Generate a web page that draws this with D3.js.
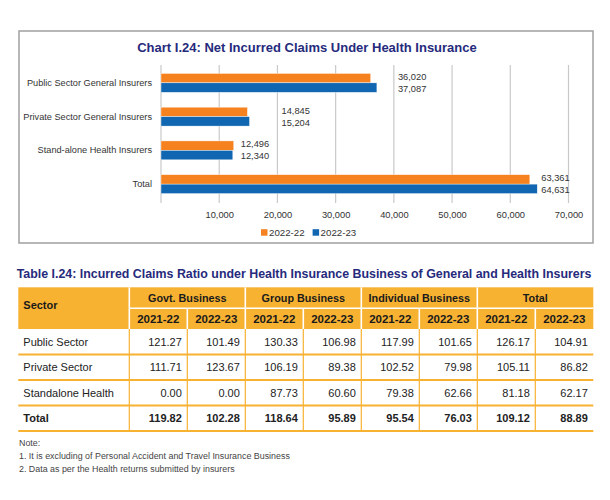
<!DOCTYPE html>
<html>
<head>
<meta charset="utf-8">
<script src="https://cdn.jsdelivr.net/npm/d3@7"></script>
<style>
  body { margin: 0; background: #fff; }
  text { font-family: "Liberation Sans", Arial, sans-serif; }
</style>
</head>
<body>
<div id="chart"></div>
<script>
// chart data
const categories = ['Public Sector General Insurers', 'Private Sector General Insurers', 'Stand-alone Health Insurers', 'Total'];
const seriesNames = ['2022-22', '2022-23'];
const claims2122 = [36020, 14845, 12496, 63361];
const claims2223 = [37087, 15204, 12340, 64631];
const xTicks = [10000, 20000, 30000, 40000, 50000, 60000, 70000];

// table data
const sectors = ['Public Sector', 'Private Sector', 'Standalone Health', 'Total'];
const businessGroups = ['Govt. Business', 'Group Business', 'Individual Business', 'Total'];
const years = ['2021-22', '2022-23'];
const publicRatios = [121.27, 101.49, 130.33, 106.98, 117.99, 101.65, 126.17, 104.91];
const privateRatios = [111.71, 123.67, 106.19, 89.38, 102.52, 79.98, 105.11, 86.82];
const standaloneRatios = [0.00, 0.00, 87.73, 60.60, 79.38, 62.66, 81.18, 62.17];
const totalRatios = [119.82, 102.28, 118.64, 95.89, 95.54, 76.03, 109.12, 88.89];
const notes = ['Note:', '1. It is excluding of Personal Accident and Travel Insurance Business', '2. Data as per the Health returns submitted by insurers'];

const navy = '#262a7c';
const orange = '#f5821f';
const blue = '#1166b1';
const gold = '#f8b232';

function drawChart(svg) {
  // the box around the bar chart
  svg.append('rect')
    .attr('x', 19).attr('y', 31)
    .attr('width', 574).attr('height', 212)
    .attr('fill', 'none')
    .attr('stroke', '#a0a0a0')
    .attr('stroke-width', 1.5);

  svg.append('text')
    .attr('x', 307).attr('y', 47.5)
    .attr('text-anchor', 'middle')
    .attr('dominant-baseline', 'central')
    .attr('fill', navy)
    .style('font-size', '13px')
    .style('font-weight', 'bold')
    .text('Chart I.24: Net Incurred Claims Under Health Insurance');

  const rows = categories.map((c, i) => ({cat: c, values: [claims2122[i], claims2223[i]]}));

  const x = d3.scaleLinear().domain([0, 70000]).range([161, 568.5]);
  const y = d3.scaleBand().domain(categories).range([66, 201])
    .paddingInner(0.44).paddingOuter(0.22);
  const y1 = d3.scaleBand().domain(seriesNames).range([0, y.bandwidth()]);
  const color = d3.scaleOrdinal().domain(seriesNames).range([orange, blue]);

  // grid lines, including the zero line
  svg.append('g')
    .selectAll('line')
    .data([0].concat(xTicks))
    .join('line')
      .attr('x1', d => x(d)).attr('x2', d => x(d))
      .attr('y1', 65).attr('y2', 203)
      .attr('stroke', '#c9c9c9')
      .attr('stroke-width', 1.2);

  // x axis labels
  const xAxis = svg.append('g')
    .attr('transform', 'translate(0, 208)')
    .call(d3.axisBottom(x).tickValues(xTicks).tickSize(0).tickFormat(d3.format(',')));
  xAxis.select('.domain').remove();
  xAxis.selectAll('text')
    .attr('fill', '#333')
    .style('font-size', '9.3px')
    .style('font-family', '"Liberation Sans", Arial, sans-serif');

  // category labels
  const yAxis = svg.append('g')
    .attr('transform', 'translate(152, 0)')
    .call(d3.axisLeft(y).tickSize(0).tickPadding(0));
  yAxis.select('.domain').remove();
  yAxis.selectAll('text')
    .attr('fill', '#333')
    .style('font-size', '9.2px')
    .style('font-family', '"Liberation Sans", Arial, sans-serif');

  // bars
  const groups = svg.append('g')
    .selectAll('g')
    .data(rows)
    .join('g')
      .attr('transform', d => `translate(0, ${y(d.cat)})`);

  groups.selectAll('rect')
    .data(d => d.values.map((v, j) => ({key: seriesNames[j], value: v})))
    .join('rect')
      .attr('x', x(0))
      .attr('y', d => y1(d.key))
      .attr('width', d => x(d.value) - x(0))
      .attr('height', y1.bandwidth())
      .attr('fill', d => color(d.key))
      .attr('stroke', '#fff')
      .attr('stroke-width', 0.4);

  // value labels sit a little right of the longer bar
  const labelGap = [21, 32, 7, 4];
  groups.each(function(d, i) {
    const g = d3.select(this);
    const lx = x(d3.max(d.values)) + labelGap[i];
    d.values.forEach((v, j) => {
      g.append('text')
        .attr('x', lx)
        .attr('y', y.bandwidth() / 2 + (j === 0 ? -6 : 6))
        .attr('dominant-baseline', 'central')
        .attr('fill', '#333')
        .style('font-size', '9.3px')
        .text(d3.format(',')(v));
    });
  });

  // legend
  const legend = svg.append('g')
    .attr('transform', 'translate(261, 232.5)')
    .selectAll('g')
    .data(seriesNames)
    .join('g')
      .attr('transform', (d, i) => `translate(${i * 51.6}, 0)`);
  legend.append('rect')
    .attr('x', 0).attr('y', -3.3)
    .attr('width', 6.5).attr('height', 6.5)
    .attr('fill', d => color(d));
  legend.append('text')
    .attr('x', 8)
    .attr('dominant-baseline', 'central')
    .attr('fill', '#333')
    .style('font-size', '9.7px')
    .text(d => d);
}

function drawTable(svg) {
  svg.append('text')
    .attr('x', 16.7).attr('y', 274)
    .attr('dominant-baseline', 'central')
    .attr('fill', navy)
    .style('font-size', '12.4px')
    .style('font-weight', 'bold')
    .text('Table I.24: Incurred Claims Ratio under Health Insurance Business of General and Health Insurers');

  const left = 18.3, sectorRight = 129.3, right = 593.3;
  const headTop = 287.3, headMid = 308.3, headBottom = 329;

  const cols = d3.scaleBand().domain(d3.range(8)).range([sectorRight, right]);
  const groupCols = d3.scaleBand().domain(businessGroups.map((d, i) => i)).range([sectorRight, right]);
  const body = d3.scaleBand().domain(sectors).range([headBottom, 431]);

  const tableRows = [publicRatios, privateRatios, standaloneRatios, totalRatios]
    .map((vals, i) => ({sector: sectors[i], vals: vals}));

  // header block
  svg.append('rect')
    .attr('x', left).attr('y', headTop)
    .attr('width', right - left).attr('height', headBottom - headTop)
    .attr('fill', gold);

  const head = svg.append('g').attr('stroke', '#fff').attr('stroke-width', 1.6);
  head.append('line')
    .attr('x1', sectorRight).attr('x2', right)
    .attr('y1', headMid).attr('y2', headMid);
  head.selectAll('.gsep')
    .data(d3.range(4))
    .join('line')
      .attr('x1', i => groupCols(i)).attr('x2', i => groupCols(i))
      .attr('y1', headTop).attr('y2', headBottom);
  head.selectAll('.ysep')
    .data(d3.range(4))
    .join('line')
      .attr('x1', i => cols(i * 2 + 1)).attr('x2', i => cols(i * 2 + 1))
      .attr('y1', headMid).attr('y2', headBottom);

  // body grid
  const grid = svg.append('g').attr('stroke', gold);
  grid.selectAll('.vline')
    .data(d3.range(8))
    .join('line')
      .attr('x1', i => cols(i)).attr('x2', i => cols(i))
      .attr('y1', headBottom).attr('y2', 431)
      .attr('stroke-width', 1.2);
  grid.selectAll('.hline')
    .data(sectors)
    .join('line')
      .attr('x1', left).attr('x2', right)
      .attr('y1', d => body(d) + body.bandwidth())
      .attr('y2', d => body(d) + body.bandwidth())
      .attr('stroke-width', 2);

  // header text
  svg.append('text')
    .attr('x', 23.3).attr('y', 305)
    .attr('dominant-baseline', 'central')
    .attr('fill', '#1a1a1a')
    .style('font-size', '11px').style('font-weight', 'bold')
    .text('Sector');

  svg.append('g')
    .selectAll('text')
    .data(businessGroups)
    .join('text')
      .attr('x', (d, i) => groupCols(i) + groupCols.bandwidth() / 2)
      .attr('y', 298)
      .attr('text-anchor', 'middle')
      .attr('dominant-baseline', 'central')
      .attr('fill', '#1a1a1a')
      .style('font-size', '10.8px').style('font-weight', 'bold')
      .text(d => d);

  svg.append('g')
    .selectAll('text')
    .data(d3.range(8))
    .join('text')
      .attr('x', i => cols(i) + cols.bandwidth() / 2)
      .attr('y', 319.3)
      .attr('text-anchor', 'middle')
      .attr('dominant-baseline', 'central')
      .attr('fill', '#1a1a1a')
      .style('font-size', '11.5px').style('font-weight', 'bold')
      .text(i => years[i % 2]);

  // body text
  const rowG = svg.append('g')
    .selectAll('g')
    .data(tableRows)
    .join('g')
      .attr('transform', d => `translate(0, ${body(d.sector) + body.bandwidth() / 2})`)
      .style('font-weight', d => d.sector === 'Total' ? 'bold' : 'normal');

  rowG.append('text')
    .attr('x', 23.3)
    .attr('dominant-baseline', 'central')
    .attr('fill', '#222')
    .style('font-size', '11px')
    .text(d => d.sector);

  rowG.selectAll('.val')
    .data(d => d.vals)
    .join('text')
      .attr('x', (v, i) => cols(i) + cols.bandwidth() - 5.5)
      .attr('text-anchor', 'end')
      .attr('dominant-baseline', 'central')
      .attr('fill', '#222')
      .style('font-size', '11px')
      .text(v => d3.format('.2f')(v));

  // notes
  svg.append('g')
    .selectAll('text')
    .data(notes)
    .join('text')
      .attr('x', 19)
      .attr('y', (d, i) => 443.3 + i * 12.8)
      .attr('dominant-baseline', 'central')
      .attr('fill', '#444')
      .style('font-size', '8.9px')
      .text(d => d);
}

function init() {
  const svg = d3.select('#chart')
    .append('svg')
    .attr('width', 610)
    .attr('height', 500);

  svg.append('rect').attr('width', 610).attr('height', 500).attr('fill', '#fff');

  drawChart(svg);
  drawTable(svg);
}

window.onload = init;
</script>
</body>
</html>
